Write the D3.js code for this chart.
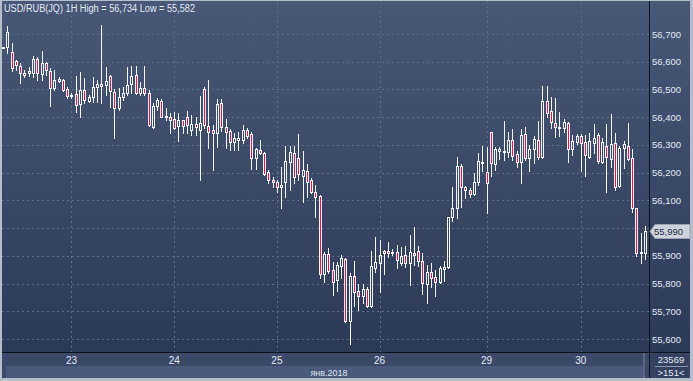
<!DOCTYPE html>
<html><head><meta charset="utf-8">
<script src="https://cdn.jsdelivr.net/npm/d3@7"></script>
<style>html,body{margin:0;padding:0;background:#b4bdca;}svg{display:block;}</style>
</head><body>
<svg id="c" width="693" height="381"></svg>
<script>
const title = "USD/RUB(JQ) 1H High = 56,734 Low = 55,582";
const open = [56.650,56.654,56.635,56.603,56.585,56.559,56.559,56.559,56.610,56.556,56.595,56.567,56.505,56.531,56.534,56.502,56.480,56.484,56.448,56.498,56.458,56.473,56.509,56.520,56.516,56.549,56.491,56.433,56.473,56.487,56.520,56.552,56.487,56.505,56.487,56.365,56.440,56.458,56.401,56.401,56.393,56.368,56.390,56.401,56.354,56.376,56.354,56.502,56.368,56.354,56.343,56.451,56.365,56.350,56.311,56.318,56.318,56.354,56.339,56.253,56.282,56.271,56.202,56.174,56.166,56.148,56.166,56.238,56.271,56.253,56.188,56.206,56.174,56.130,56.116,55.835,55.907,55.849,55.813,55.863,55.889,55.665,55.827,55.773,55.755,55.780,55.719,55.856,55.874,55.917,55.917,55.910,55.914,55.874,55.903,55.874,55.910,55.917,55.881,55.798,55.842,55.824,55.806,55.853,55.860,56.040,56.073,56.224,56.148,56.137,56.123,56.166,56.235,56.202,56.347,56.231,56.278,56.274,56.274,56.318,56.267,56.238,56.339,56.253,56.285,56.318,56.256,56.458,56.422,56.379,56.361,56.361,56.379,56.285,56.311,56.332,56.311,56.256,56.307,56.336,56.238,56.296,56.249,56.307,56.152,56.289,56.296,56.253,56.073,55.910,55.910];
const high = [56.654,56.729,56.668,56.606,56.595,56.570,56.581,56.621,56.617,56.639,56.599,56.577,56.570,56.545,56.538,56.509,56.487,56.549,56.563,56.541,56.480,56.545,56.534,56.734,56.581,56.552,56.502,56.505,56.509,56.581,56.585,56.585,56.527,56.585,56.498,56.451,56.469,56.466,56.433,56.415,56.419,56.415,56.390,56.422,56.408,56.401,56.476,56.509,56.534,56.372,56.466,56.466,56.393,56.357,56.343,56.347,56.372,56.361,56.347,56.289,56.318,56.273,56.210,56.184,56.174,56.220,56.296,56.296,56.296,56.339,56.278,56.231,56.181,56.155,56.119,55.914,55.928,55.878,55.878,55.903,55.892,55.838,55.881,55.798,55.798,55.788,55.917,55.968,55.957,55.921,55.950,55.925,55.939,55.932,55.936,55.975,56.004,55.936,55.910,55.867,55.874,55.849,55.863,55.881,56.040,56.148,56.256,56.231,56.152,56.145,56.199,56.271,56.296,56.293,56.347,56.293,56.293,56.386,56.347,56.357,56.278,56.357,56.365,56.300,56.332,56.386,56.512,56.512,56.473,56.469,56.419,56.393,56.383,56.336,56.339,56.339,56.336,56.343,56.376,56.343,56.325,56.376,56.411,56.343,56.296,56.314,56.379,56.285,56.073,55.982,56.008];
const low = [56.648,56.633,56.567,56.570,56.523,56.545,56.549,56.545,56.534,56.534,56.552,56.440,56.498,56.527,56.494,56.469,56.469,56.419,56.401,56.451,56.455,56.455,56.455,56.451,56.480,56.437,56.325,56.426,56.462,56.480,56.487,56.484,56.480,56.480,56.368,56.361,56.426,56.401,56.390,56.343,56.358,56.314,56.343,56.343,56.336,56.336,56.174,56.361,56.289,56.210,56.293,56.350,56.289,56.282,56.282,56.282,56.307,56.325,56.213,56.213,56.269,56.192,56.163,56.148,56.130,56.073,56.112,56.137,56.163,56.174,56.094,56.112,56.127,56.040,55.820,55.806,55.838,55.759,55.773,55.820,55.661,55.582,55.719,55.705,55.730,55.716,55.716,55.842,55.770,55.835,55.896,55.903,55.856,55.867,55.860,55.795,55.867,55.863,55.762,55.730,55.788,55.755,55.802,55.809,55.856,56.026,56.037,56.076,56.109,56.112,56.119,56.155,56.206,56.055,56.188,56.210,56.249,56.246,56.256,56.246,56.220,56.163,56.246,56.206,56.235,56.249,56.253,56.401,56.361,56.329,56.332,56.347,56.238,56.264,56.303,56.206,56.188,56.253,56.271,56.235,56.235,56.130,56.220,56.137,56.148,56.217,56.246,56.058,55.899,55.874,55.889];
const close = [56.652,56.708,56.577,56.588,56.559,56.552,56.567,56.610,56.559,56.595,56.570,56.505,56.534,56.538,56.498,56.476,56.479,56.444,56.498,56.462,56.473,56.509,56.520,56.512,56.531,56.494,56.433,56.473,56.487,56.516,56.549,56.487,56.505,56.487,56.372,56.440,56.462,56.401,56.404,56.390,56.361,56.390,56.368,56.372,56.376,56.365,56.379,56.372,56.347,56.343,56.448,56.365,56.347,56.311,56.325,56.325,56.354,56.332,56.253,56.285,56.271,56.195,56.174,56.166,56.148,56.155,56.242,56.274,56.184,56.195,56.210,56.166,56.130,56.112,55.835,55.907,55.845,55.806,55.867,55.892,55.665,55.827,55.770,55.755,55.780,55.719,55.863,55.878,55.903,55.910,55.910,55.914,55.885,55.899,55.874,55.914,55.903,55.881,55.802,55.842,55.820,55.806,55.856,55.860,56.040,56.073,56.224,56.148,56.137,56.123,56.166,56.242,56.238,56.163,56.235,56.285,56.285,56.278,56.318,56.260,56.238,56.336,56.253,56.285,56.321,56.256,56.458,56.415,56.383,56.365,56.365,56.383,56.285,56.314,56.332,56.307,56.264,56.314,56.325,56.242,56.311,56.256,56.303,56.148,56.289,56.303,56.249,56.073,55.910,55.912,55.990];
const dayLabels = ["23","24","25","26","29","30"];
const dayIndex = [16,40,64,88,113,135];
const monthLabel = "янв.2018";
const yTicks = [55.6,55.7,55.8,55.9,56.0,56.1,56.2,56.3,56.4,56.5,56.6,56.7];
const lastPrice = 55.990;
const volumeText = "23569";
const barsText = ">151<";

const W = 693, H = 381;
const svg = d3.select("#c");
const defs = svg.append("defs");
const g1 = defs.append("linearGradient").attr("id","bg").attr("x1",0).attr("x2",0).attr("y1",0).attr("y2",1);
g1.append("stop").attr("offset","0%").attr("stop-color","#4a5878");
g1.append("stop").attr("offset","100%").attr("stop-color","#2c3957");

// frame
svg.append("rect").attr("x",0).attr("y",0).attr("width",W).attr("height",H).attr("fill","#b4bdca");
svg.append("rect").attr("x",2).attr("y",1).attr("width",648).attr("height",351).attr("fill","url(#bg)");
svg.append("rect").attr("x",650).attr("y",1).attr("width",40).attr("height",351).attr("fill","url(#bg)");
svg.append("rect").attr("x",2).attr("y",352).attr("width",648).attr("height",26).attr("fill","#3b4867");
svg.append("rect").attr("x",6).attr("y",366).attr("width",637).attr("height",12).attr("fill","#4b5a7b");
svg.append("rect").attr("x",643).attr("y",353).attr("width",2).attr("height",25).attr("fill","#5b6680");
svg.append("rect").attr("x",650).attr("y",352).attr("width",40).attr("height",26).attr("fill","#34415f");

const n = open.length;
const x = d3.scalePoint().domain(d3.range(n)).range([3, 645]);
const y = d3.scaleLinear().domain([55.6, 56.7]).range([339, 34]);

// grid
const grid = svg.append("g");
grid.selectAll("line.h").data(yTicks).join("line")
  .attr("x1",2).attr("x2",649).attr("y1",d=>Math.round(y(d))+0.5).attr("y2",d=>Math.round(y(d))+0.5)
  .attr("stroke","#5d6c8c").attr("stroke-dasharray","2,3").attr("stroke-width",1);
grid.selectAll("line.v").data(dayIndex).join("line")
  .attr("x1",d=>Math.round(x(d))+0.5).attr("x2",d=>Math.round(x(d))+0.5).attr("y1",1).attr("y2",352)
  .attr("stroke","#5d6c8c").attr("stroke-dasharray","2,3").attr("stroke-width",1);

// candles
const cg = svg.append("g");
d3.range(n).forEach(i => {
  const cx = Math.round(x(i));
  const up = close[i] >= open[i];
  const top = Math.round(y(Math.max(open[i], close[i])));
  let bot = Math.round(y(Math.min(open[i], close[i])));
  if (bot - top < 1) bot = top + 1;
  const hy = Math.round(y(high[i])), ly = Math.round(y(low[i]));
  if (hy < top) cg.append("line").attr("x1",cx+0.5).attr("x2",cx+0.5).attr("y1",hy).attr("y2",top).attr("stroke","#f4f4f4").attr("stroke-width",1);
  if (ly > bot) cg.append("line").attr("x1",cx+0.5).attr("x2",cx+0.5).attr("y1",bot+1).attr("y2",ly+1).attr("stroke","#f4f4f4").attr("stroke-width",1);
  cg.append("rect").attr("x",cx-0.5).attr("y",top+0.5).attr("width",2).attr("height",bot-top)
    .attr("fill", up ? "none" : "#e3164d").attr("stroke","#f4f4f4").attr("stroke-width",1);
});

// separators
svg.append("line").attr("x1",649.5).attr("x2",649.5).attr("y1",1).attr("y2",378).attr("stroke","#0e121c");
svg.append("line").attr("x1",2).attr("x2",690).attr("y1",352.5).attr("y2",352.5).attr("stroke","#0e121c");

const font = "'Liberation Sans', Arial, sans-serif";
// title
svg.append("text").attr("x",4).attr("y",12).attr("fill","#e2e8f2").attr("font-family",font).attr("font-size",10)
  .attr("textLength",191).attr("lengthAdjust","spacingAndGlyphs").text(title);

// y axis labels
const fmt = v => d3.format(",.3f")(v).replace(".", "#").replace(",", ",").replace("#", "");
const yLab = v => { const s = v.toFixed(3).split("."); return s[0] + "," + s[1]; };
svg.append("g").selectAll("text").data(yTicks.filter(d=>Math.abs(d-56.0)>1e-9)).join("text")
  .attr("x",652).attr("y",d=>y(d)+3.5).attr("fill","#e2e8f2").attr("font-family",font).attr("font-size",9.5)
  .text(d=>yLab(d));

// last price marker
const ly0 = Math.round(y(lastPrice));
svg.append("path").attr("d",`M650,${ly0+0.5} L655,${ly0-6.5} L690,${ly0-6.5} L690,${ly0+7.5} L655,${ly0+7.5} Z`)
  .attr("fill","#cfd3da").attr("stroke","#9aa2b0").attr("stroke-width",1);
svg.append("text").attr("x",654).attr("y",ly0+4).attr("fill","#1f2a44").attr("font-family",font).attr("font-size",9.5).text(yLab(lastPrice));

// date labels
svg.append("g").selectAll("text").data(dayIndex).join("text")
  .attr("x",d=>x(d)).attr("y",364).attr("text-anchor","middle").attr("fill","#e2e8f2").attr("font-family",font).attr("font-size",10)
  .text((d,i)=>dayLabels[i]);
svg.append("text").attr("x",329).attr("y",376).attr("text-anchor","middle").attr("fill","#dde4ef").attr("font-family",font).attr("font-size",9).text(monthLabel);

// bottom-right box
svg.append("text").attr("x",671).attr("y",363).attr("text-anchor","middle").attr("fill","#e2e8f2").attr("font-family",font).attr("font-size",9.5).text(volumeText);
svg.append("line").attr("x1",655).attr("x2",688).attr("y1",366.5).attr("y2",366.5).attr("stroke","#8d97ab");
svg.append("text").attr("x",671).attr("y",376).attr("text-anchor","middle").attr("fill","#e2e8f2").attr("font-family",font).attr("font-size",9.5).text(barsText);
</script>
</body></html>
